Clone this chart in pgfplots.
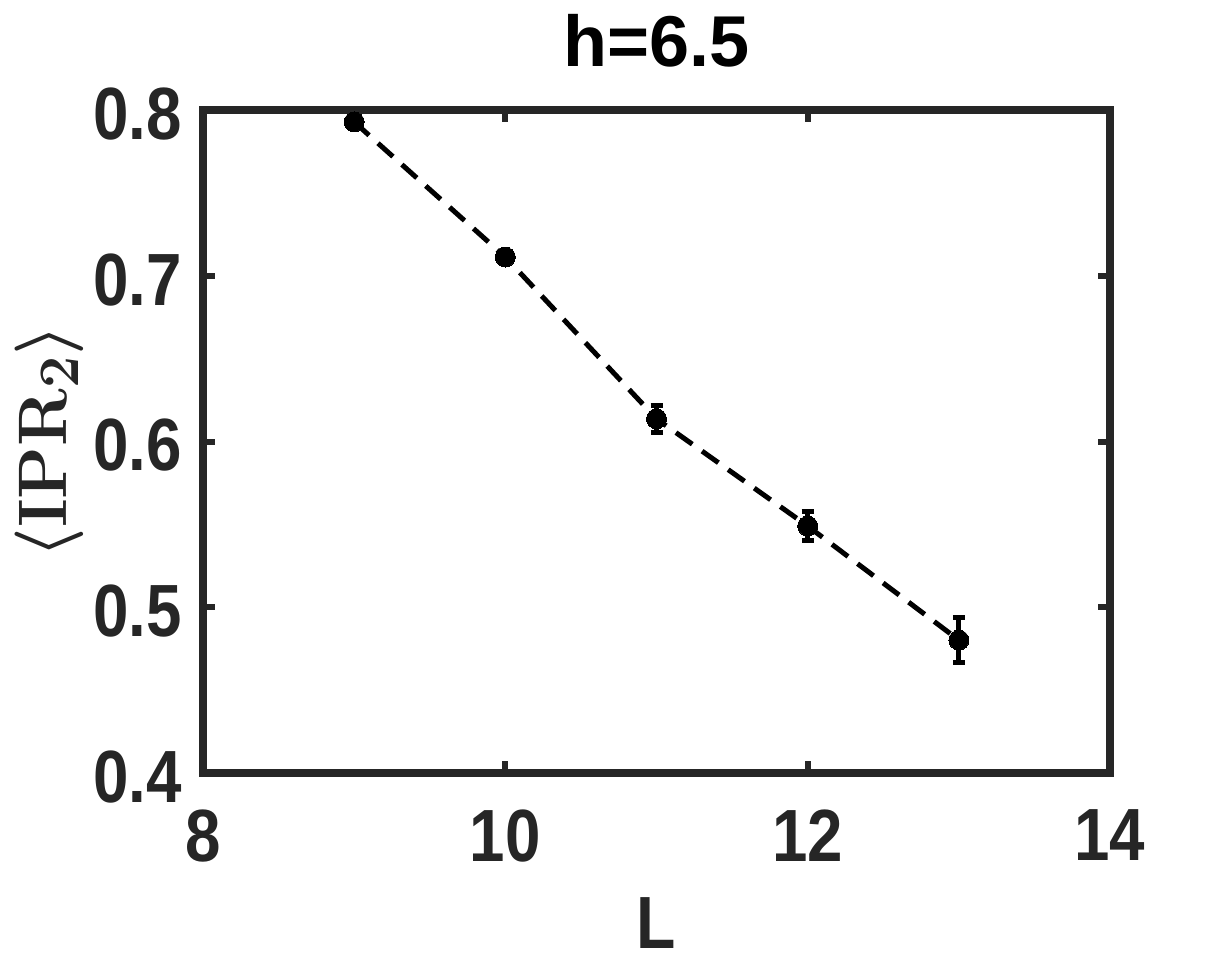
\documentclass[border=0pt]{standalone}
\usepackage{fontspec}
\usepackage{graphicx}
\newfontfamily\arial{Liberation Sans}
\usepackage{pgfplots}
\pgfplotsset{compat=1.18}
\definecolor{axgray}{HTML}{262626}
\pgfplotstableread{
x y ey
9 0.7928 0.002
10 0.7113 0.002
11 0.6137 0.0080
12 0.5490 0.0090
13 0.4802 0.0135
}\datatab
\begin{document}
\begin{tikzpicture}
\begin{axis}[
  at={(0,0)}, anchor=south west,
  scale only axis, width=453.5pt, height=331.5pt,
  xmin=8, xmax=14, ymin=0.4, ymax=0.8,
  xtick={8,10,12,14}, ytick={0.4,0.5,0.6,0.7,0.8},
  axis line style={line width=4pt, color=axgray},
  tick style={line width=3pt, color=axgray},
  major tick length=6pt, tick align=inside,
  every tick label/.append style={font=\arial\bfseries\fontsize{37}{44}\selectfont, text=axgray, inner sep=0pt},
  /pgf/number format/assume math mode=true,
  xticklabel={\scalebox{0.86}[1]{\pgfmathprintnumber{\tick}}},
  yticklabel={\scalebox{0.86}[1]{\pgfmathprintnumber[fixed,fixed zerofill,precision=1]{\tick}}},
  yticklabel style={anchor=east, xshift=-10.5pt, yshift=-2pt},
  xticklabel style={anchor=north, yshift=-18pt},
  title={h=6.5},
  title style={font=\arial\bfseries\fontsize{36}{43}\selectfont, at={(axis description cs:0.5,1.0468)}, anchor=base, inner sep=0pt},
  xlabel={\scalebox{0.87}[1]{L}},
  xlabel style={font=\arial\bfseries\fontsize{37}{44}\selectfont, text=axgray, at={(axis description cs:0.5,-0.264)}, anchor=base, inner sep=0pt},
  ylabel={\scalebox{1.38}{\fontsize{24.88}{30}\selectfont\boldmath$\langle\mathbf{IPR}_{2}\rangle$}},
  ylabel style={at={(axis description cs:-0.1695,0.5)}, anchor=center, inner sep=0pt, text=axgray},
  clip=false,
]
\addplot[black, line width=2.5pt, dash pattern=on 10pt off 6pt,
  mark=*, mark size=5pt, mark options={solid, fill=black, draw=black, line width=0pt},
  error bars/.cd, y dir=both, y explicit,
  error bar style={line width=2.5pt, solid, black},
  error mark options={rotate=90, line width=2.5pt, mark size=3pt, solid, black}]
  table[x=x, y=y, y error=ey] {\datatab};
\end{axis}
\pgfresetboundingbox
\path (-101.5pt,-95.5pt) rectangle (511pt,386.5pt);
\end{tikzpicture}
\end{document}
